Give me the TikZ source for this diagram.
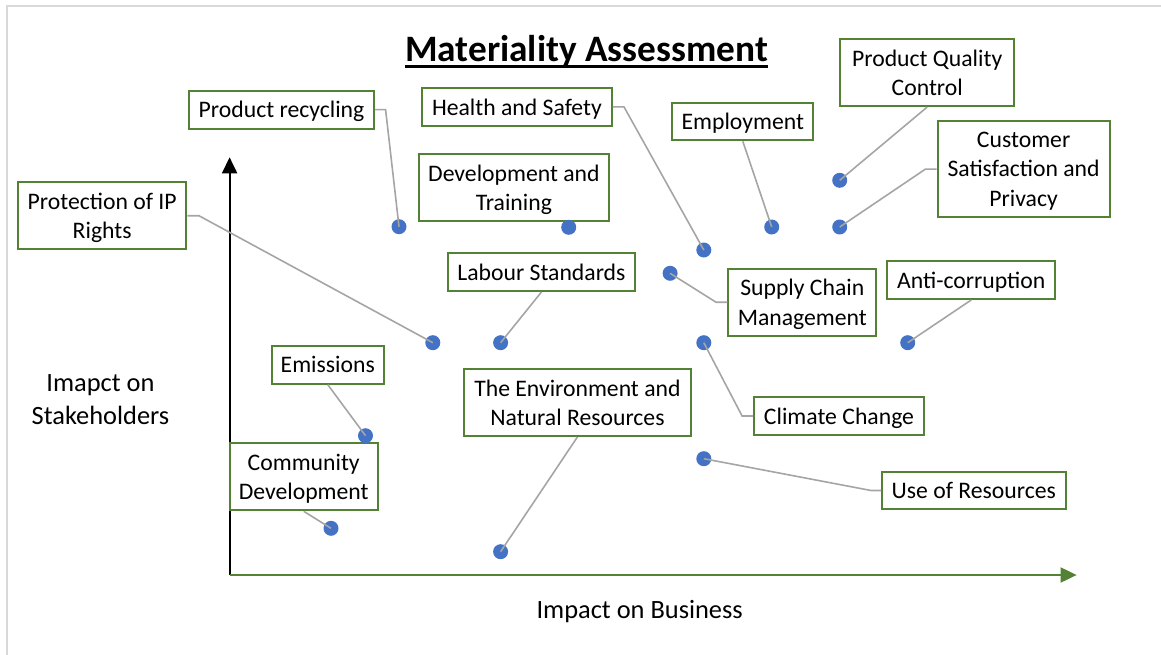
\documentclass[tikz,border=0pt]{standalone}
\usepackage{fontspec}
\setmainfont{Carlito}
\usetikzlibrary{arrows.meta,calc}
\definecolor{boxgreen}{HTML}{548235}
\definecolor{dotblue}{HTML}{4472C4}
\definecolor{linegray}{HTML}{A5A5A5}
\definecolor{framegray}{HTML}{D9D9D9}
\begin{document}
\begin{tikzpicture}[x=1pt,y=-1pt,
 box/.style={draw=boxgreen,line width=2pt,fill=white,inner sep=0pt,align=center,text depth=0pt,font=\fontsize{23.7}{29.3}\selectfont},
 dot/.style={circle,fill=dotblue,minimum size=15pt,inner sep=0pt},
 conn/.style={draw=linegray,line width=1.6pt},
 axlabel/.style={align=center,inner sep=0pt,font=\fontsize{26.4}{32.7}\selectfont}]
\useasboundingbox (0,0) rectangle (1161,655);
% frame
\draw[framegray,line width=2pt] (6.5,655) -- (6.5,6.5) -- (1161,6.5);
% title
\node[inner sep=0pt,anchor=base,font=\fontsize{37.3}{42}\selectfont\bfseries] (title) at (586.5,61.7) {Materiality Assessment};
\draw[line width=2.5pt] ($(title.base west)+(0,5)$) -- ($(title.base east)+(0,5)$);
% axes
\coordinate (origin) at (229.6,575);
\coordinate (ytip) at (229.6,157.3);
\coordinate (xtip) at (1076.6,575);
\draw[line width=2pt,-{Triangle[length=16pt,width=15pt]}] (origin) -- (ytip);
\draw[boxgreen,line width=2pt,-{Triangle[length=16pt,width=15pt]}] (origin) -- (xtip);
\node[axlabel] (ylab) at (100.5,399.6) {Imapct on\\Stakeholders};
\node[axlabel] (xlab) at (639.7,611.7) {Impact on Business};
% boxes
\node[box,minimum width=185pt,minimum height=38pt] (pr) at (281.5,109.7) {Product recycling};
\node[box,minimum width=189.8pt,minimum height=37.7pt] (hs) at (516.9,106.9) {Health and Safety};
\node[box,minimum width=190.3pt,minimum height=66.7pt] (dt) at (513.9,187.7) {Development and\\Training};
\node[box,minimum width=168.4pt,minimum height=66.7pt] (ip) at (102.2,215.7) {Protection of IP\\Rights};
\node[box,minimum width=187.2pt,minimum height=37.7pt] (ls) at (541.4,272.2) {Labour Standards};
\node[box,minimum width=174.3pt,minimum height=66.7pt] (pq) at (927.2,72.7) {Product Quality\\Control};
\node[box,minimum width=140.9pt,minimum height=37.6pt] (em) at (742.8,121.5) {Employment};
\node[box,minimum width=171.8pt,minimum height=96.3pt] (cs) at (1023.6,169.2) {Customer\\Satisfaction and\\Privacy};
\node[box,minimum width=147.8pt,minimum height=67pt] (sc) at (802.3,302.2) {Supply Chain\\Management};
\node[box,minimum width=167.7pt,minimum height=38pt] (ac) at (971.2,280) {Anti-corruption};
\node[box,minimum width=169.6pt,minimum height=38pt] (cc) at (839,416) {Climate Change};
\node[box,minimum width=183.5pt,minimum height=37.6pt] (ur) at (973.8,490.5) {Use of Resources};
\node[box,minimum width=226.3pt,minimum height=67pt] (en) at (577.4,402.5) {The Environment and\\Natural Resources};
\node[box,minimum width=112.2pt,minimum height=38pt] (emi) at (327.8,364.7) {Emissions};
\node[box,minimum width=148.1pt,minimum height=67.6pt] (cd) at (303.7,476.5) {Community\\Development};
% dots
\node[dot] (dpr) at (399,226.7) {};
\node[dot] (dhs) at (703.8,250) {};
\node[dot] (ddt) at (568.7,227.3) {};
\node[dot] (dip) at (432.8,342.7) {};
\node[dot] (dls) at (500.6,342.7) {};
\node[dot] (dpq) at (839.7,180.3) {};
\node[dot] (dem) at (771.7,227) {};
\node[dot] (dcs) at (839.7,227) {};
\node[dot] (dsc) at (670.1,273.3) {};
\node[dot] (dac) at (907.7,342.7) {};
\node[dot] (dcc) at (703.8,342.7) {};
\node[dot] (dur) at (703.8,458.7) {};
\node[dot] (den) at (500.6,551.7) {};
\node[dot] (demi) at (365.5,435.7) {};
\node[dot] (dcd) at (331,528.3) {};
% connectors
\draw[conn] (pr.east) -- ++(10.6,0) -- (dpr.center);
\draw[conn] (hs.east) -- ++(11.2,0) -- (dhs.center);
\draw[conn] (ip.east) -- ++(11.5,0) -- (dip.center);
\draw[conn] (ls.south) -- (dls.center);
\draw[conn] (pq.south) -- (dpq.center);
\draw[conn] (em.south) -- (dem.center);
\draw[conn] (cs.west) -- ++(-11.4,0) -- (dcs.center);
\draw[conn] (sc.west) -- ++(-11.4,0) -- (dsc.center);
\draw[conn] (ac.south) -- (dac.center);
\draw[conn] (cc.west) -- ++(-11.1,0) -- (dcc.center);
\draw[conn] (ur.west) -- ++(-10,0) -- (dur.center);
\draw[conn] (en.south) -- (den.center);
\draw[conn] (emi.south) -- (demi.center);
\draw[conn] (cd.south) -- (dcd.center);
\end{tikzpicture}
\end{document}
